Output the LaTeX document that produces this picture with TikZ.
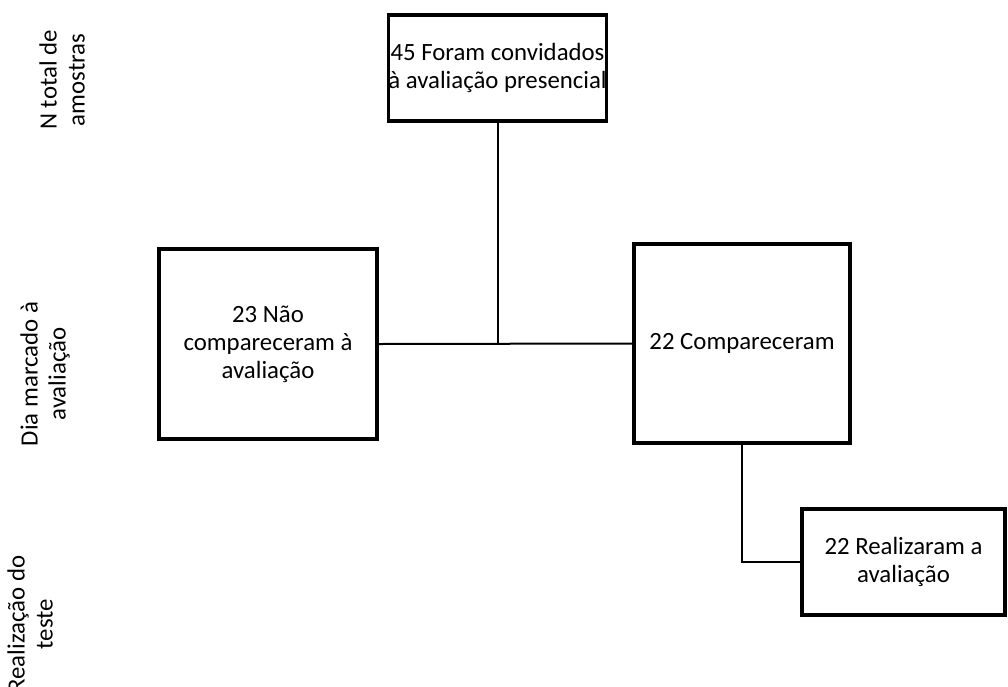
\documentclass[tikz,border=0pt]{standalone}
\usepackage{fontspec}
\setmainfont{Carlito}
\begin{document}
\begin{tikzpicture}[x=1pt,y=-1pt,
  box/.style={draw=black,line width=3.5pt,inner sep=0pt,align=center,fill=white},
  conn/.style={draw=black,line width=2pt},
  side/.style={rotate=90,align=center,inner sep=0pt},
  every node/.style={font=\fontsize{24.8}{28}\selectfont}]
\useasboundingbox (0,0) rectangle (1008,686);
\node[box,minimum width=217pt,minimum height=106pt] (top) at (497.5,68) {45 Foram convidados\\à avaliação presencial};
\node[box,minimum width=218pt,minimum height=190pt] (left) at (268,344) {23 Não\\compareceram à\\avaliação};
\node[box,minimum width=216pt,minimum height=199pt] (right) at (742,343.5) {22 Compareceram};
\node[box,minimum width=203pt,minimum height=106pt] (bot) at (903.5,562) {22 Realizaram a\\avaliação};
\coordinate (j) at (top.south |- left.east);
\draw[conn] (top.south) -- (j);
\draw[conn] (left.east) -- (right.west);
\draw[conn] (right.south) |- (bot.west);
\node[side] (l1) at (62,80) {N total de\\amostras};
\node[side] (l2) at (45,374) {Dia marcado à\\avaliação};
\node[side] (l3) at (30,624) {Realização do\\teste};
\end{tikzpicture}
\end{document}
